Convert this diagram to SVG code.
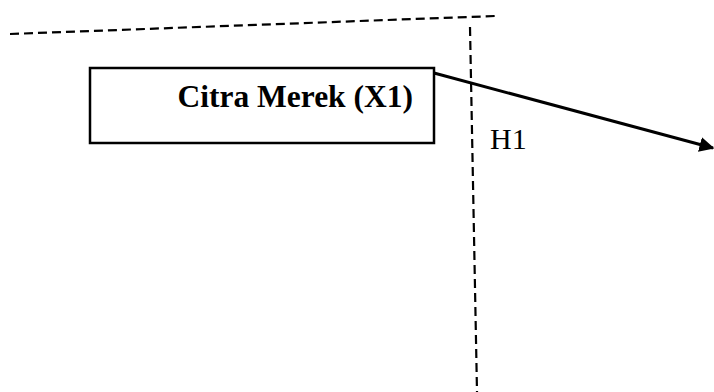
<svg xmlns="http://www.w3.org/2000/svg" width="714" height="392" viewBox="0 0 714 392">
<style>
.dash{fill:none;stroke:#000;stroke-width:2.2;stroke-dasharray:9 5}
.box{fill:#fff;stroke:#000;stroke-width:2.5}
.conn{fill:none;stroke:#000;stroke-width:3}
.lbl{font-family:"Liberation Serif","Times New Roman",serif;fill:#000}
</style>
<defs>
<marker id="ah" viewBox="0 0 10 10" refX="9" refY="5" markerWidth="5" markerHeight="5" orient="auto" markerUnits="strokeWidth">
<path d="M0,0 L10,5 L0,10 z" fill="#000"/>
</marker>
</defs>
<g id="boundary">
<line class="dash" x1="10" y1="34" x2="495" y2="16"/>
<line class="dash" x1="470" y1="27" x2="477" y2="392"/>
</g>
<g id="node-x1">
<rect class="box" x="90" y="68" width="344" height="75"/>
<text class="lbl" x="413" y="107" text-anchor="end" font-size="31.5" font-weight="bold">Citra Merek (X1)</text>
</g>
<g id="connectors">
<line class="conn" x1="434" y1="73" x2="713" y2="148" marker-end="url(#ah)"/>
<text class="lbl" x="490" y="149" font-size="30">H1</text>
</g>
</svg>
